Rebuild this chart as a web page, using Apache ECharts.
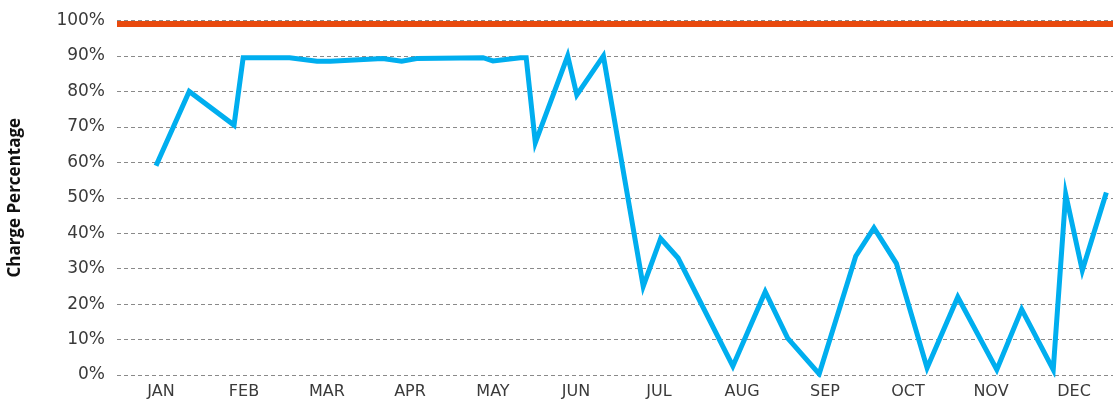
<!DOCTYPE html>
<html>
<head>
<meta charset="utf-8">
<script src="https://cdn.jsdelivr.net/npm/echarts@6/dist/echarts.min.js"></script>
<style>
html,body{margin:0;padding:0;background:#fff;}
#chart{width:1113px;height:410px;}
</style>
</head>
<body>
<div id="chart"></div>
<script>
const months = ['JAN','FEB','MAR','APR','MAY','JUN','JUL','AUG','SEP','OCT','NOV','DEC'];
// position along the year in months (0 = start of Jan, 12 = end of Dec)
const monthPos = [0.47,0.87,1.41,1.52,2.08,2.41,2.57,3.20,3.43,3.61,4.41,4.53,4.86,4.93,5.04,5.43,5.54,5.86,6.34,6.55,6.76,7.42,7.81,8.08,8.46,8.90,9.12,9.39,9.76,10.13,10.60,10.90,11.28,11.43,11.63,11.92];
const chargePct = [59,80,70.5,89.5,89.5,88.5,88.5,89.3,88.5,89.3,89.5,88.6,89.5,89.5,65.5,90,79,90,25,38.5,33,2.5,23.5,10.4,0.3,33.5,41.5,31.5,2,22,1.5,18.5,1.5,51,29.5,51.5];
const targetPct = 99;
const yTicks = [0,10,20,30,40,50,60,70,80,90,100];

const blueData = monthPos.map((x,i)=>[x, chargePct[i]]);
const targetData = [[0,targetPct],[12,targetPct]];

const chart = echarts.init(document.getElementById('chart'));
chart.setOption({
  animation:false,
  grid:{left:117,right:0,top:20.5,bottom:35,containLabel:false,outerBoundsMode:'none'},
  xAxis:[
    {type:'value',min:0,max:12,interval:1,show:false,splitLine:{show:false}},
    {type:'category',data:months,position:'bottom',boundaryGap:true,
     axisLine:{show:false},axisTick:{show:false},splitLine:{show:false},
     axisLabel:{color:'#3a3a3a',fontSize:16,fontFamily:'DejaVu Sans',margin:9,padding:[0,0,0,5]}}
  ],
  yAxis:{type:'value',min:yTicks[0],max:yTicks[yTicks.length-1],interval:10,
    name:'Charge Percentage',nameLocation:'middle',nameRotate:90,nameGap:93,
    nameTextStyle:{fontFamily:'Open Sans',fontWeight:'bold',fontSize:17,color:'#111'},
    axisLine:{show:false},axisTick:{show:false},
    axisLabel:{formatter:'{value}%',color:'#3a3a3a',fontSize:17,fontFamily:'DejaVu Sans',margin:12},
    splitLine:{show:true,lineStyle:{color:'#8a8a8a',type:[4,3],width:1.2}}
  },
  series:[
    {type:'line',xAxisIndex:0,data:targetData,symbol:'none',
     lineStyle:{color:'#E84A0E',width:6},z:2},
    {type:'line',xAxisIndex:0,data:blueData,symbol:'none',
     lineStyle:{color:'#00AEEF',width:5,join:'miter',miterLimit:10},z:3}
  ]
});
</script>
</body>
</html>
